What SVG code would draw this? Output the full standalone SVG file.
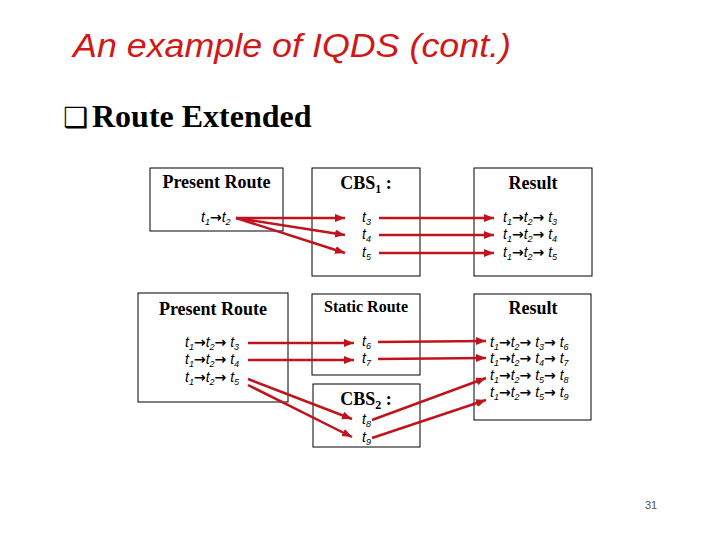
<svg xmlns="http://www.w3.org/2000/svg" width="720" height="540" viewBox="0 0 720 540">
<defs>
<marker id="ah" markerUnits="userSpaceOnUse" markerWidth="12" markerHeight="10" refX="10" refY="4" orient="auto">
<path d="M0,0 L10,4 L0,8 Z" fill="#c0141c"/>
</marker>
<style>
.box{fill:#fff;stroke:#000;stroke-width:1}
.hd{font-family:"Liberation Serif",serif;font-weight:bold;font-size:18px;fill:#000;text-anchor:middle}
.t{font-family:"Liberation Sans",sans-serif;font-style:italic;font-size:14px;fill:#000}
.s{font-size:9px}
.a{font-style:normal;font-weight:bold;font-family:"DejaVu Sans",sans-serif;font-size:14px}
.c line{stroke:#c0141c;stroke-width:2.5;marker-end:url(#ah)}
</style>
</defs>
<rect width="720" height="540" fill="#fff"/>
<text x="73" y="57" font-family="Liberation Sans, sans-serif" font-style="italic" font-size="34" fill="#d01818" textLength="438" lengthAdjust="spacingAndGlyphs">An example of IQDS (cont.)</text>
<text x="63" y="127" font-family="Liberation Serif, serif" font-weight="bold" font-size="32" fill="#000"><tspan font-family="DejaVu Sans, sans-serif" font-weight="normal" font-size="28">❑</tspan><tspan x="92">Route Extended</tspan></text>

<g id="present1">
<rect class="box" x="150" y="168" width="133" height="63"/>
<text class="hd" x="216.5" y="188">Present Route</text>
<text class="t" x="201" y="222">t<tspan class="s" dy="3">1</tspan><tspan class="a" dy="-3">→</tspan>t<tspan class="s" dy="3">2</tspan></text>
</g>
<g id="cbs1">
<rect class="box" x="312" y="168" width="108" height="108"/>
<text class="hd" x="366" y="189">CBS<tspan font-size="12" dy="4">1</tspan><tspan dy="-4"> :</tspan></text>
<text class="t" x="362" y="222">t<tspan class="s" dy="3">3</tspan></text>
<text class="t" x="362" y="239">t<tspan class="s" dy="3">4</tspan></text>
<text class="t" x="362" y="257">t<tspan class="s" dy="3">5</tspan></text>
</g>
<g id="result1">
<rect class="box" x="474" y="168" width="118" height="108"/>
<text class="hd" x="533" y="189">Result</text>
<text class="t" x="503" y="222">t<tspan class="s" dy="3">1</tspan><tspan class="a" dy="-3">→</tspan>t<tspan class="s" dy="3">2</tspan><tspan class="a" dy="-3">→</tspan> t<tspan class="s" dy="3">3</tspan></text>
<text class="t" x="503" y="239">t<tspan class="s" dy="3">1</tspan><tspan class="a" dy="-3">→</tspan>t<tspan class="s" dy="3">2</tspan><tspan class="a" dy="-3">→</tspan> t<tspan class="s" dy="3">4</tspan></text>
<text class="t" x="503" y="257">t<tspan class="s" dy="3">1</tspan><tspan class="a" dy="-3">→</tspan>t<tspan class="s" dy="3">2</tspan><tspan class="a" dy="-3">→</tspan> t<tspan class="s" dy="3">5</tspan></text>
</g>
<g id="present2">
<rect class="box" x="138" y="293" width="150" height="109"/>
<text class="hd" x="213" y="315">Present Route</text>
<text class="t" x="185" y="347">t<tspan class="s" dy="3">1</tspan><tspan class="a" dy="-3">→</tspan>t<tspan class="s" dy="3">2</tspan><tspan class="a" dy="-3">→</tspan> t<tspan class="s" dy="3">3</tspan></text>
<text class="t" x="185" y="364">t<tspan class="s" dy="3">1</tspan><tspan class="a" dy="-3">→</tspan>t<tspan class="s" dy="3">2</tspan><tspan class="a" dy="-3">→</tspan> t<tspan class="s" dy="3">4</tspan></text>
<text class="t" x="185" y="382">t<tspan class="s" dy="3">1</tspan><tspan class="a" dy="-3">→</tspan>t<tspan class="s" dy="3">2</tspan><tspan class="a" dy="-3">→</tspan> t<tspan class="s" dy="3">5</tspan></text>
</g>
<g id="static">
<rect class="box" x="312" y="294" width="108" height="81"/>
<text class="hd" x="366" y="312" style="font-size:16px">Static Route</text>
<text class="t" x="362" y="346">t<tspan class="s" dy="3">6</tspan></text>
<text class="t" x="362" y="363">t<tspan class="s" dy="3">7</tspan></text>
</g>
<g id="cbs2">
<rect class="box" x="313" y="384" width="107" height="63"/>
<text class="hd" x="366" y="405">CBS<tspan font-size="12" dy="4">2</tspan><tspan dy="-4"> :</tspan></text>
<text class="t" x="362" y="424">t<tspan class="s" dy="3">8</tspan></text>
<text class="t" x="362" y="442">t<tspan class="s" dy="3">9</tspan></text>
</g>
<g id="result2">
<rect class="box" x="474" y="294" width="117" height="126"/>
<text class="hd" x="533" y="314">Result</text>
<text class="t" x="490" y="347">t<tspan class="s" dy="3">1</tspan><tspan class="a" dy="-3">→</tspan>t<tspan class="s" dy="3">2</tspan><tspan class="a" dy="-3">→</tspan> t<tspan class="s" dy="3">3</tspan><tspan class="a" dy="-3">→</tspan> t<tspan class="s" dy="3">6</tspan></text>
<text class="t" x="490" y="363">t<tspan class="s" dy="3">1</tspan><tspan class="a" dy="-3">→</tspan>t<tspan class="s" dy="3">2</tspan><tspan class="a" dy="-3">→</tspan> t<tspan class="s" dy="3">4</tspan><tspan class="a" dy="-3">→</tspan> t<tspan class="s" dy="3">7</tspan></text>
<text class="t" x="490" y="380">t<tspan class="s" dy="3">1</tspan><tspan class="a" dy="-3">→</tspan>t<tspan class="s" dy="3">2</tspan><tspan class="a" dy="-3">→</tspan> t<tspan class="s" dy="3">5</tspan><tspan class="a" dy="-3">→</tspan> t<tspan class="s" dy="3">8</tspan></text>
<text class="t" x="490" y="397">t<tspan class="s" dy="3">1</tspan><tspan class="a" dy="-3">→</tspan>t<tspan class="s" dy="3">2</tspan><tspan class="a" dy="-3">→</tspan> t<tspan class="s" dy="3">5</tspan><tspan class="a" dy="-3">→</tspan> t<tspan class="s" dy="3">9</tspan></text>
</g>
<g id="connectors" class="c">
<line x1="236" y1="218" x2="345" y2="218"/>
<line x1="236" y1="218" x2="345" y2="235"/>
<line x1="236" y1="218" x2="345" y2="253"/>
<line x1="379" y1="218" x2="494" y2="218"/>
<line x1="379" y1="235" x2="494" y2="235"/>
<line x1="379" y1="253" x2="494" y2="253"/>
<line x1="248" y1="343" x2="354" y2="343"/>
<line x1="248" y1="360" x2="354" y2="360"/>
<line x1="248" y1="379" x2="352" y2="419"/>
<line x1="248" y1="385" x2="352" y2="437"/>
<line x1="378" y1="342" x2="486" y2="341"/>
<line x1="378" y1="359" x2="486" y2="358"/>
<line x1="372" y1="420" x2="486" y2="378"/>
<line x1="372" y1="438" x2="486" y2="400"/>
</g>
<text x="651" y="509" font-family="Liberation Sans, sans-serif" font-size="11" fill="#555" text-anchor="middle">31</text>
</svg>
